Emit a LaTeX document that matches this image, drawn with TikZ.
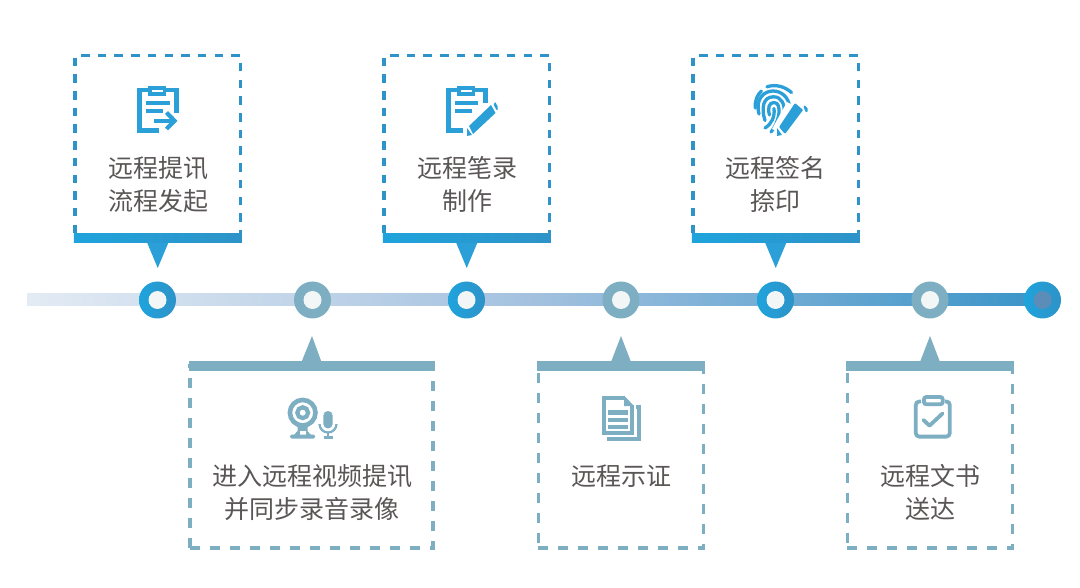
\documentclass[tikz,border=0pt]{standalone}
\usepackage{fontspec}
\setmainfont{Noto Sans CJK SC}
\definecolor{bluemain}{HTML}{2A9FD8}
\definecolor{blueleft}{HTML}{1FA3DC}
\definecolor{blueright}{HTML}{2E93C8}
\definecolor{tealmain}{HTML}{7DAEC1}
\definecolor{txt}{HTML}{5A5656}
\definecolor{dotfill}{HTML}{F3F6F6}
\definecolor{lineleft}{HTML}{E3EBF4}
\definecolor{linemid}{HTML}{A3C1DF}
\definecolor{lineright}{HTML}{3A94C8}
\definecolor{endcore}{HTML}{5B8DB8}
\tikzset{
  x=1pt,y=-1pt,
  dashbox/.style={draw=blueright,line width=3.2pt,dash pattern=on 8.5pt off 8.2pt,minimum height=184.5pt,inner sep=0pt,outer sep=0pt},
  tealdash/.style={draw=tealmain,line width=3.2pt,dash pattern=on 10pt off 10pt,minimum height=182pt,inner sep=0pt,outer sep=0pt},
  bluebar/.style={rectangle,left color=blueleft,right color=blueright,minimum height=9pt,inner sep=0pt,outer sep=0pt},
  tealbar/.style={rectangle,fill=tealmain,minimum height=10pt,inner sep=0pt,outer sep=0pt},
  bluedot/.style={circle,draw=none,left color=blueleft,right color=blueright,minimum size=37pt,inner sep=0pt},
  tealdot/.style={circle,fill=tealmain,minimum size=37pt,inner sep=0pt},
  hole/.style={circle,fill=dotfill,minimum size=18pt,inner sep=0pt},
  label/.style={font=\fontsize{25}{33}\selectfont,text=txt,align=center,inner sep=0pt},
  icon/.style={line width=4.2pt,line cap=butt,line join=miter}
}
\begin{document}
\begin{tikzpicture}
\useasboundingbox (0,0) rectangle (1080,588);
% timeline
\coordinate (ts) at (27,294);
\coordinate (tm) at (535,306);
\coordinate (tn) at (535,294);
\coordinate (te) at (1043,306);
\shade[left color=lineleft,right color=linemid] (ts) rectangle (tm);
\shade[left color=linemid,right color=lineright] (tn) rectangle (te);
% dashed boxes
\node[dashbox,minimum width=165.5pt] (b1) at (157.75,147.75) {};
\node[dashbox,minimum width=165.5pt] (b3) at (466.75,147.75) {};
\node[dashbox,minimum width=165.5pt] (b5) at (775.75,147.75) {};
\node[tealdash,minimum width=243pt] (b2) at (311.5,457) {};
\node[tealdash,minimum width=165.5pt] (b4) at (621,457) {};
\node[tealdash,minimum width=165.5pt] (b6) at (930,457) {};
% bars
\node[bluebar,minimum width=168pt] (r1) at (157.75,238.5) {};
\node[bluebar,minimum width=168pt] (r3) at (466.75,238.5) {};
\node[bluebar,minimum width=168pt] (r5) at (775.75,238.5) {};
\node[tealbar,minimum width=246pt] (r2) at (311.5,366) {};
\node[tealbar,minimum width=168pt] (r4) at (621,366) {};
\node[tealbar,minimum width=168pt] (r6) at (930,366) {};
% pointers
\foreach \n in {r1,r3,r5}
  \fill[bluemain] ([xshift=-10.5pt]\n.south) -- ([xshift=10.5pt]\n.south) -- ([yshift=-25pt]\n.south) -- cycle;
\fill[tealmain] ([xshift=-10pt,yshift=-1pt]r2.north) -- ([xshift=10pt,yshift=-1pt]r2.north) -- ([xshift=.5pt,yshift=25pt]r2.north) -- cycle;
\fill[tealmain] ([xshift=-10pt,yshift=-1pt]r4.north) -- ([xshift=10pt,yshift=-1pt]r4.north) -- ([yshift=25pt]r4.north) -- cycle;
\fill[tealmain] ([xshift=-10pt,yshift=-1pt]r6.north) -- ([xshift=10pt,yshift=-1pt]r6.north) -- ([yshift=25pt]r6.north) -- cycle;
% dots
\node[bluedot] (d1) at (157.5,300) {};
\node[tealdot] (d2) at (312.5,300) {};
\node[bluedot] (d3) at (466.5,300) {};
\node[tealdot] (d4) at (621,300) {};
\node[bluedot] (d5) at (775.5,300) {};
\node[tealdot] (d6) at (930,300) {};
\node[bluedot] (d7) at (1042.5,300) {};
\foreach \n in {d1,d2,d3,d4,d5,d6}
  \node[hole] at (\n) {};
\node[circle,fill=endcore,minimum size=18pt,inner sep=0pt] at (d7) {};
% labels
\node[label] (t1) at (158,184.5) {远程提讯\\流程发起};
\node[label] (t3) at (467,184.5) {远程笔录\\制作};
\node[label] (t5) at (775.5,184.5) {远程签名\\捺印};
\node[label] (t2) at (312,492.5) {进入远程视频提讯\\并同步录音录像};
\node[label] (t4) at (621,476) {远程示证};
\node[label] (t6) at (930,492.5) {远程文书\\送达};
% icon 1
\begin{scope}[bluemain,icon]
\draw (148,90) -- (139.5,90) -- (139.5,130.5) -- (159,130.5);
\draw (166,90) -- (176.5,90) -- (176.5,113);
\fill (148,86) rectangle (166,96);
\fill[white] (152,90) rectangle (163,92.5);
\draw (146,103.2) -- (170,103.2);
\draw (146,110.7) -- (163,110.7);
\draw (154,120.8) -- (174,120.8);
\draw (166.5,112.5) -- (174.5,120.8) -- (166.5,129);
\end{scope}
% icon 3
\begin{scope}[bluemain,icon]
\draw (457,90) -- (448.5,90) -- (448.5,130.5) -- (463,130.5);
\draw (475,90) -- (485.5,90) -- (485.5,103);
\fill (457,86) rectangle (475,96);
\fill[white] (461,90) rectangle (472,92.5);
\draw (455,103.2) -- (478,103.2);
\draw (455,110.7) -- (472,110.7);
\fill (491,105) -- (495.5,113) -- (473,134) -- (469,126) -- cycle;
\fill (493,103.5) -- (495.5,102.5) [rounded corners=2pt] -- (498.5,108) -- (497,111) -- cycle;
\fill (467,128) -- (472,135) -- (467,136) -- cycle;
\end{scope}
% icon 5
\begin{scope}[bluemain,line width=3.3pt,line cap=round]
\draw (767,86.8) .. controls (776,83.8) and (785,86.8) .. (791.5,92.5);
\draw (755.2,108) .. controls (754.8,100) and (757.5,94.5) .. (761.5,91);
\draw (759,114) .. controls (755,99) and (764,91) .. (773,91) .. controls (782,91) and (789,98) .. (789.5,107);
\draw (765,120.5) .. controls (761,108) and (763,96.8) .. (773.5,96.8) .. controls (782,96.8) and (785,105) .. (784,113) .. controls (783,120) and (781,124) .. (777,129);
\draw (769.5,115) .. controls (767.5,108) and (769,102.5) .. (774,102.5) .. controls (778.5,102.5) and (779.5,108) .. (779,113) .. controls (778.5,118) and (776,126) .. (771,132);
\draw (774,108.5) .. controls (775,117) and (771.5,124) .. (765,128);
\fill[white] (787,102) -- (804,111) -- (786,135) -- (772,129) -- cycle;
\fill (795,103) -- (803,110) [rounded corners=1pt] -- (785,134) -- (779,127) -- cycle;
\fill (803,105.5) -- (805,105.5) [rounded corners=2pt] -- (809,110) -- (806,113) -- cycle;
\fill (777,128) -- (782,135) -- (777,136) -- cycle;
\end{scope}
% icon 2
\begin{scope}[tealmain]
\draw[line width=4.6pt] (302.7,412.7) circle (12.8pt);
\draw[line width=4.2pt] (302.7,412.7) circle (5.4pt);
\fill (297.5,426) -- (307.5,426) -- (307.5,431) -- (311,435) -- (294,435) -- (297.5,431) -- cycle;
\fill[white] (299.5,431) rectangle (305.5,435);
\fill[rounded corners=1.5pt] (290,434.5) rectangle (315,438.5);
\fill[rounded corners=4.6pt] (323.3,411) rectangle (332.7,428.5);
\draw[line width=2.2pt] (319.5,424) arc[start angle=180,end angle=360,radius=8.5pt];
\draw[line width=2.2pt] (328,432.5) -- (328,437);
\draw[line width=2.4pt] (323.5,437.5) -- (333,437.5);
\end{scope}
% icon 4
\begin{scope}[tealmain,icon]
\draw (625,397.8) -- (603.8,397.8) -- (603.8,433) -- (632,433) -- (632,405);
\fill (624,395.7) -- (634.2,406) -- (624,406) -- cycle;
\draw (607.7,412.5) -- (627.7,412.5);
\draw (607.7,419.8) -- (627.7,419.8);
\draw (607.7,427) -- (627.7,427);
\draw (635.5,406.7) -- (639.3,406.7) -- (639.3,438.7) -- (607,438.7);
\end{scope}
% icon 6
\begin{scope}[tealmain,line width=3.8pt]
\draw[rounded corners=3.5pt] (921,401.5) -- (915.8,401.5) -- (915.8,436.6) -- (949.8,436.6) -- (949.8,401.5) -- (945,401.5);
\draw[rounded corners=2.5pt,fill=white] (923.9,397) rectangle (942.8,404.3);
\draw[line width=3.8pt,line cap=round,line join=round] (923.5,420) -- (929.5,425.7) -- (942.5,413.5);
\end{scope}
\end{tikzpicture}
\end{document}
